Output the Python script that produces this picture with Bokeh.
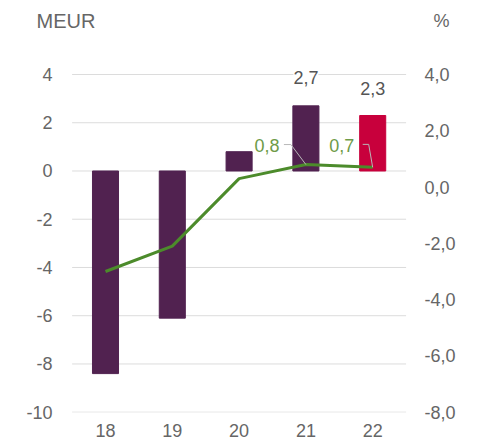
from bokeh.plotting import figure
from bokeh.models import (Range1d, LinearAxis, FixedTicker, Label,
                          ColumnDataSource, LabelSet)
from bokeh.core.properties import value
from bokeh.embed import file_html
from bokeh.resources import INLINE

# ---- data ----
years = ["18", "19", "20", "21", "22"]
meur = [-8.4, -6.1, 0.8, 2.7, 2.3]
pct = [-3.0, -2.1, 0.3, 0.8, 0.7]
bar_labels = ["", "", "", "2,7", "2,3"]
pct_label_idx = [3, 4]
pct_labels = ["0,8", "0,7"]
left_ticks = [-10, -8, -6, -4, -2, 0, 2, 4]
left_tick_labels = ["-10", "-8", "-6", "-4", "-2", "0", "2", "4"]
right_ticks = [-8, -6, -4, -2, 0, 2, 4]
right_tick_labels = ["-8,0", "-6,0", "-4,0", "-2,0", "0,0", "2,0", "4,0"]

# ---- style ----
FONT = "Liberation Sans"
PURPLE = "#512250"
RED = "#c8003c"
GREEN = "#4c8b2b"
GREEN_TXT = "#6e9b48"
GRAY_TXT = "#666666"
bar_colors = [PURPLE, PURPLE, PURPLE, PURPLE, RED]

W, H = 481, 446
BB = 34
frame_h = H - BB
px_x = 66.8
first_x = 105.0
px_yl = 337.7 / 14.0
px_yr = 337.7 / 12.0
top_px = 74.0
L_END = left_ticks[-1] + top_px / px_yl
L_START = L_END - frame_h / px_yl
R_END = right_ticks[-1] + top_px / px_yr
R_START = R_END - frame_h / px_yr

xi = list(range(len(years)))
p = figure(width=W, height=H,
           x_range=Range1d(-first_x / px_x, (W - first_x) / px_x),
           y_range=Range1d(L_START, L_END), output_backend="svg",
           toolbar_location=None, min_border_left=0, min_border_right=0,
           min_border_top=0, min_border_bottom=BB)
p.extra_y_ranges = {"pct": Range1d(R_START, R_END)}
p.outline_line_color = None
p.background_fill_color = "white"
p.border_fill_color = "white"

# gridlines (span half a category beyond the outer bars)
n = len(years)
p.segment(x0=[-0.5] * len(left_ticks), x1=[n - 0.5] * len(left_ticks),
          y0=left_ticks, y1=left_ticks, line_color="#dcdcdc", line_width=1)
p.xgrid.visible = False
p.ygrid.visible = False

src = ColumnDataSource(dict(x=xi, top=meur, color=bar_colors))
p.vbar(x="x", top="top", bottom=0, width=0.39, color="color", source=src)

p.line(x=xi, y=pct, y_range_name="pct", line_color=GREEN, line_width=3)

# axes
def style_axis(ax, size="18px"):
    ax.axis_line_color = None
    ax.major_tick_line_color = None
    ax.minor_tick_line_color = None
    ax.major_tick_out = 0
    ax.major_tick_in = 0
    ax.minor_tick_out = 0
    ax.minor_tick_in = 0
    ax.major_label_text_font = FONT
    ax.major_label_text_font_size = size
    ax.major_label_text_color = GRAY_TXT

yl = p.yaxis[0]
yl.ticker = FixedTicker(ticks=left_ticks)
yl.major_label_overrides = {t: s for t, s in zip(left_ticks, left_tick_labels)}
style_axis(yl)
yl.major_label_standoff = -52

yr = LinearAxis(y_range_name="pct", ticker=FixedTicker(ticks=right_ticks))
yr.major_label_overrides = {t: s for t, s in zip(right_ticks, right_tick_labels)}
style_axis(yr)
yr.major_label_standoff = -57
p.add_layout(yr, "right")

xa = p.xaxis[0]
xa.ticker = FixedTicker(ticks=xi)
xa.major_label_overrides = {i: y for i, y in zip(xi, years)}
style_axis(xa)
xa.major_label_standoff = 11

# bar value labels (above bars)
bl_x, bl_y, bl_t = [], [], []
offs = [0, 0, 0, 28, 27]
for i, t in enumerate(bar_labels):
    if t:
        bl_x.append(xi[i])
        bl_y.append(meur[i] + offs[i] / px_yl)
        bl_t.append(t)
p.add_layout(LabelSet(x="x", y="y", text="t",
                      source=ColumnDataSource(dict(x=bl_x, y=bl_y, t=bl_t)),
                      text_font=value(FONT), text_font_size=value("18px"),
                      text_color=value("#555555"),
                      text_align="center", text_baseline="middle",
                      background_fill_color="white"))

# percentage labels with leader lines
lab_dx = [-39, -31]
lab_dy = [19, 22]
lead_start_dx = [-22, -10]
lead_elbow_dx = [-15, -4]
lead_dy = [20, 23]
for k, i in enumerate(pct_label_idx):
    x0, y0 = xi[i], pct[i]
    ys = y0 + lead_dy[k] / px_yr
    p.line(x=[x0 + lead_start_dx[k] / px_x, x0 + lead_elbow_dx[k] / px_x, x0],
           y=[ys, ys, y0], y_range_name="pct", line_color="#b8b8b8", line_width=1)
    p.add_layout(Label(x=x0 + lab_dx[k] / px_x, y=y0 + lab_dy[k] / px_yr,
                       y_range_name="pct", text=pct_labels[k], text_font=FONT,
                       text_font_size="18px", text_color=GREEN_TXT,
                       text_align="center", text_baseline="middle"))

# unit labels
p.add_layout(Label(x=36, y=20, x_units="canvas", y_units="canvas", text="MEUR",
                   text_font=FONT, text_font_size="20px", text_color=GRAY_TXT,
                   text_align="left", text_baseline="middle"))
p.add_layout(Label(x=433, y=20, x_units="canvas", y_units="canvas", text="%",
                   text_font=FONT, text_font_size="18px", text_color=GRAY_TXT,
                   text_align="left", text_baseline="middle"))

open("out.html", "w").write(file_html(p, INLINE))
